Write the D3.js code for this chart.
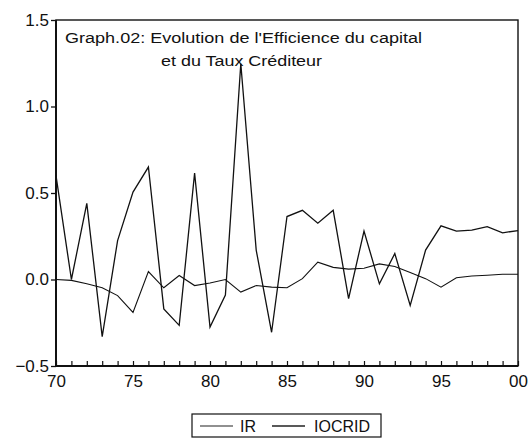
<!DOCTYPE html>
<html>
<head>
<meta charset="utf-8">
<script src="https://cdn.jsdelivr.net/npm/d3@7"></script>
<style>
  body { margin: 0; background: #fff; }
  text { font-family: Arial, "Liberation Sans", sans-serif; fill: #111; }
</style>
</head>
<body>
<div id="chart"></div>
<script>
// years 1970..2000
var years = d3.range(1970, 2001);
var ir = [0.0, -0.005, -0.025, -0.048, -0.093, -0.19, 0.046, -0.048, 0.023, -0.035,
  -0.02, 0.0, -0.073, -0.035, -0.044, -0.048, 0.005, 0.1, 0.07, 0.06,
  0.065, 0.09, 0.075, 0.04, 0.005, -0.044, 0.01, 0.02, 0.025, 0.03, 0.03];
var iocrid = [0.6, 0.0, 0.44, -0.33, 0.225, 0.505, 0.65, -0.17, -0.265, 0.615,
  -0.275, -0.09, 1.247, 0.17, -0.305, 0.364, 0.40, 0.325, 0.40, -0.11,
  0.28, -0.025, 0.15, -0.15, 0.17, 0.31, 0.28, 0.285, 0.305, 0.27, 0.283];
var yTicks = [-0.5, 0.0, 0.5, 1.0, 1.5];
var xLabelYears = [1970, 1975, 1980, 1985, 1990, 1995, 2000];
var titleLines = ["Graph.02: Evolution de l'Efficience du capital", "et du Taux Créditeur"];
var legendNames = ["IR", "IOCRID"];

var margin = {top: 20, right: 12, bottom: 77, left: 56},
    width = 530 - margin.left - margin.right,
    height = 443 - margin.top - margin.bottom;

var root = d3.select("#chart")
  .append("svg")
    .attr("width", 530)
    .attr("height", 443);

var svg = root.append("g")
    .attr("transform", "translate(" + margin.left + "," + margin.top + ")");

var x = d3.scaleLinear().domain([1970, 2000]).range([0, width]);
var y = d3.scaleLinear().domain([-0.5, 1.5]).range([height, 0]);

// frame
svg.append("rect")
  .attr("x", 0).attr("y", 0)
  .attr("width", width).attr("height", height)
  .style("fill", "none").style("stroke", "#111").style("stroke-width", 1.4);
svg.append("line").attr("x1", 0).attr("x2", 0).attr("y1", 0).attr("y2", height)
  .style("stroke", "#111").style("stroke-width", 2);
svg.append("line").attr("x1", 0).attr("x2", width).attr("y1", height).attr("y2", height)
  .style("stroke", "#111").style("stroke-width", 2);

// y axis
var yAxis = svg.append("g")
  .call(d3.axisLeft(y).tickValues(yTicks).tickSize(5).tickPadding(2)
    .tickFormat(d3.format(".1f")));
yAxis.select(".domain").remove();
yAxis.selectAll("line").style("stroke", "#111").style("stroke-width", 1.3);
yAxis.selectAll("text").style("font-size", "17px").attr("fill", "#111");

// x axis: ticks every year pointing inward
var xAxis = svg.append("g")
  .attr("transform", "translate(0," + height + ")")
  .call(d3.axisBottom(x).tickValues(years).tickSize(-5).tickPadding(9)
    .tickFormat(function(d) { return xLabelYears.indexOf(d) >= 0 ? d3.format("02d")(d % 100) : ""; }));
xAxis.select(".domain").remove();
xAxis.selectAll("line").style("stroke", "#111").style("stroke-width", 1.2);
xAxis.selectAll("text").style("font-size", "17px").attr("fill", "#111");

var line = d3.line()
  .x(function(d, i) { return x(years[i]); })
  .y(function(d) { return y(d); });

svg.append("path").datum(ir)
  .attr("d", line)
  .style("fill", "none").style("stroke", "#111").style("stroke-width", 1.1);
svg.append("path").datum(iocrid)
  .attr("d", line)
  .style("fill", "none").style("stroke", "#111").style("stroke-width", 1.3);

// title (stretched like the scan)
svg.append("text").attr("x", 9).attr("y", 23).text(titleLines[0])
  .style("font-size", "15.5px").attr("textLength", 357).attr("lengthAdjust", "spacingAndGlyphs");
svg.append("text").attr("x", 105).attr("y", 46).text(titleLines[1])
  .style("font-size", "15.5px").attr("textLength", 161).attr("lengthAdjust", "spacingAndGlyphs");

// legend
var lg = root.append("g").attr("transform", "translate(192,414)");
lg.append("rect").attr("width", 189).attr("height", 23)
  .style("fill", "#fff").style("stroke", "#111").style("stroke-width", 1.2);
lg.append("line").attr("x1", 8).attr("x2", 41).attr("y1", 12).attr("y2", 12)
  .style("stroke", "#222").style("stroke-width", 1.1);
lg.append("text").attr("x", 48).attr("y", 18).text(legendNames[0]).style("font-size", "16px");
lg.append("line").attr("x1", 80).attr("x2", 113).attr("y1", 12).attr("y2", 12)
  .style("stroke", "#222").style("stroke-width", 1.6);
lg.append("text").attr("x", 122).attr("y", 18).text(legendNames[1]).style("font-size", "16px");
</script>
</body>
</html>
